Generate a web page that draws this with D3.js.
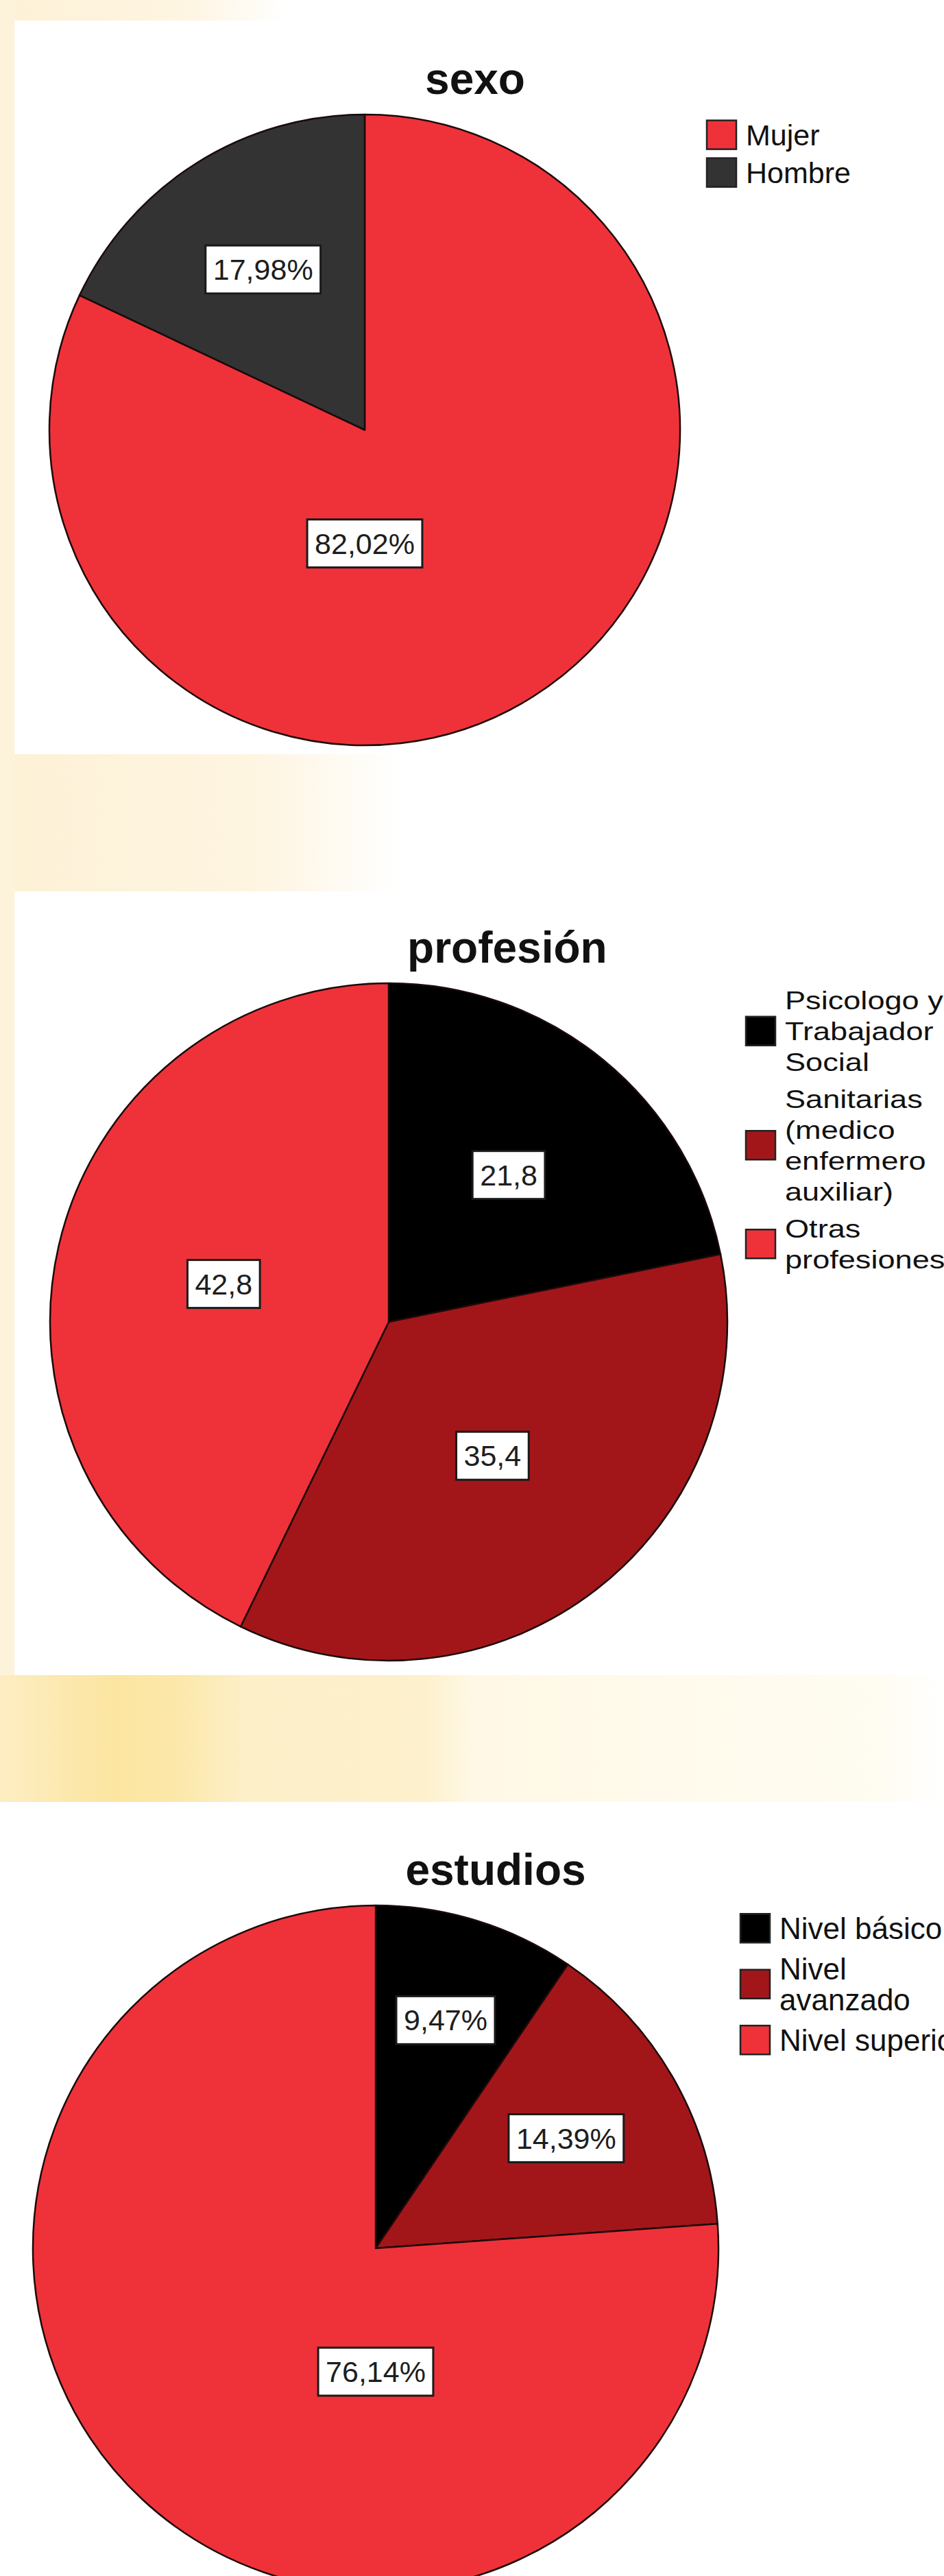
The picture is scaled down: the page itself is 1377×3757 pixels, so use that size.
<!DOCTYPE html>
<html>
<head>
<meta charset="utf-8">
<script src="https://cdn.jsdelivr.net/npm/d3@7"></script>
<style>
  body { margin: 0; background: #ffffff; }
  svg { display: block; }
</style>
</head>
<body>
<div id="my_dataviz"></div>
<script>

// data
var sexoCats = ["Mujer", "Hombre"];
var sexoVals = [82.02, 17.98];

var profCats = ["Psicologo y Trabajador Social", "Sanitarias (medico enfermero auxiliar)", "Otras profesiones"];
var profVals = [21.8, 35.4, 42.8];

var estCats = ["Nivel básico", "Nivel avanzado", "Nivel superior"];
var estVals = [9.47, 14.39, 76.14];

var width = 1377,
    height = 3757;

var red = "#ef3239", darkRed = "#a2161a", black = "#000000", grey = "#333333";

// spanish decimal comma
function fmt(dec, pct) {
    return function (v) {
        return v.toFixed(dec).replace(".", ",") + (pct ? "%" : "");
    };
}

var charts = [
    {title: "sexo", cats: sexoCats, values: sexoVals, colors: [red, grey], label: fmt(2, true),
     cx: 532, cy: 627, r: 460, legFont: 43, legScale: 1, lineH: 45, gap: 10, legDx: 39, legDy: 45},
    {title: "profesión", cats: profCats, values: profVals, colors: [black, darkRed, red], label: fmt(1, false),
     cx: 567, cy: 1928, r: 494, legFont: 37, legScale: 1.22, lineH: 45, gap: 9, legDx: 27, legDy: 38},
    {title: "estudios", cats: estCats, values: estVals, colors: [black, darkRed, red], label: fmt(2, true),
     cx: 548, cy: 3279, r: 500, legFont: 44, legScale: 1, lineH: 45, gap: 14, legDx: 32, legDy: 49}
];

var svg = d3.select("#my_dataviz")
    .append("svg")
    .attr("width", width)
    .attr("height", height);

// ---- cream background of the slide ----
var defs = svg.append("defs");

function hGrad(id, stops) {
    var gr = defs.append("linearGradient").attr("id", id)
        .attr("x1", "0").attr("x2", "1").attr("y1", "0").attr("y2", "0");
    stops.forEach(function (s) {
        gr.append("stop").attr("offset", s[0]).attr("stop-color", s[1]);
    });
}
hGrad("fadeCream", [[0, "#fdf1d6"], [0.65, "#fef5e2"], [1, "#ffffff"]]);
hGrad("band", [[0, "#fdedc2"], [0.12, "#fce5a0"], [0.19, "#fce8aa"], [0.26, "#fdefc8"],
    [0.45, "#fdf0cc"], [0.5, "#fff8e6"], [0.93, "#fffcf1"], [1, "#ffffff"]]);

svg.append("rect").attr("x", 0).attr("y", 0).attr("width", 420).attr("height", 30).attr("fill", "url(#fadeCream)");
svg.append("rect").attr("x", 0).attr("y", 0).attr("width", 21).attr("height", 2443).attr("fill", "#fdf2da");
svg.append("rect").attr("x", 21).attr("y", 1100).attr("width", 560).attr("height", 200).attr("fill", "url(#fadeCream)");
svg.append("rect").attr("x", 0).attr("y", 2443).attr("width", width).attr("height", 185).attr("fill", "url(#band)");

// ---- one pie chart with title, boxed labels and legend ----
function drawPie(c) {
    var data = c.cats.map(function (k, i) {
        return {cat: k, value: c.values[i]};
    });
    var total = d3.sum(c.values);

    var color = d3.scaleOrdinal()
        .domain(c.cats)
        .range(c.colors);

    var pie = d3.pie().sort(null).value(function (d) { return d.value; });
    var arc = d3.arc().innerRadius(0).outerRadius(c.r);
    var arcs = pie(data);

    // title
    svg.append("text")
        .attr("x", c.cx + 0.35 * c.r)
        .attr("y", c.cy - c.r - 30)
        .attr("text-anchor", "middle")
        .style("font-family", "'Liberation Sans', Arial, sans-serif")
        .style("font-weight", "bold")
        .style("font-size", "64px")
        .attr("fill", "#111")
        .text(c.title);

    var g = svg.append("g")
        .attr("transform", "translate(" + c.cx + "," + c.cy + ")");

    g.selectAll(".slice")
        .data(arcs)
        .enter()
        .append("path")
        .attr("class", "slice")
        .attr("d", arc)
        .attr("fill", function (d) { return color(d.data.cat); })
        .attr("stroke", "#1c0a0a")
        .attr("stroke-width", 2.5)
        .attr("stroke-linejoin", "round");

    // value labels in white boxes
    arcs.forEach(function (d) {
        var p = d.value / total, a, rr;
        if (p > 0.5) {
            a = Math.PI;           // big slice: straight under the centre
            rr = 0.36 * c.r;
        } else {
            a = (d.startAngle + d.endAngle) / 2;
            rr = c.r * Math.max(0.5, 0.8 - 1.1 * p);
        }
        var x = Math.sin(a) * rr, y = -Math.cos(a) * rr;
        var lg = g.append("g").attr("transform", "translate(" + x + "," + y + ")");
        var box = lg.append("rect");
        var t = lg.append("text")
            .attr("text-anchor", "middle")
            .attr("y", 15)
            .style("font-family", "'Liberation Sans', Arial, sans-serif")
            .style("font-size", "43px")
            .attr("fill", "#1e1e1e")
            .text(c.label(d.value));
        var w = t.node().getComputedTextLength() + 22;
        box.attr("x", -w / 2).attr("y", -35).attr("width", w).attr("height", 70)
            .attr("fill", "#ffffff")
            .attr("stroke", "#1a1a1a")
            .attr("stroke-width", 3);
    });

    // legend
    var lx = c.cx + c.r + c.legDx;
    var y = c.cy - c.r + c.legDy;   // first baseline
    var maxW = 280;
    var cap = c.legFont * 0.716;

    c.cats.forEach(function (k, i) {
        var t = svg.append("text")
            .attr("transform", "translate(" + (lx + 57) + "," + y + ") scale(" + c.legScale + ",1)")
            .style("font-family", "'Liberation Sans', Arial, sans-serif")
            .style("font-size", c.legFont + "px")
            .attr("fill", "#111");

        // wrap words like the original legend
        var words = k.split(" "), line = [], n = 0;
        var ts = t.append("tspan").attr("x", 0).attr("dy", 0);
        words.forEach(function (wd) {
            line.push(wd);
            ts.text(line.join(" "));
            if (ts.node().getComputedTextLength() * c.legScale > maxW && line.length > 1) {
                line.pop();
                ts.text(line.join(" "));
                line = [wd];
                n++;
                ts = t.append("tspan").attr("x", 0).attr("dy", c.lineH).text(wd);
            }
        });

        var mid = y + n * c.lineH / 2 - cap / 2;
        svg.append("rect")
            .attr("x", lx)
            .attr("y", mid - 21)
            .attr("width", 43)
            .attr("height", 42)
            .attr("fill", color(k))
            .attr("stroke", "#222")
            .attr("stroke-width", 2.5);

        y += (n + 1) * c.lineH + c.gap;
    });
}

charts.forEach(drawPie);

</script>
</body>
</html>
